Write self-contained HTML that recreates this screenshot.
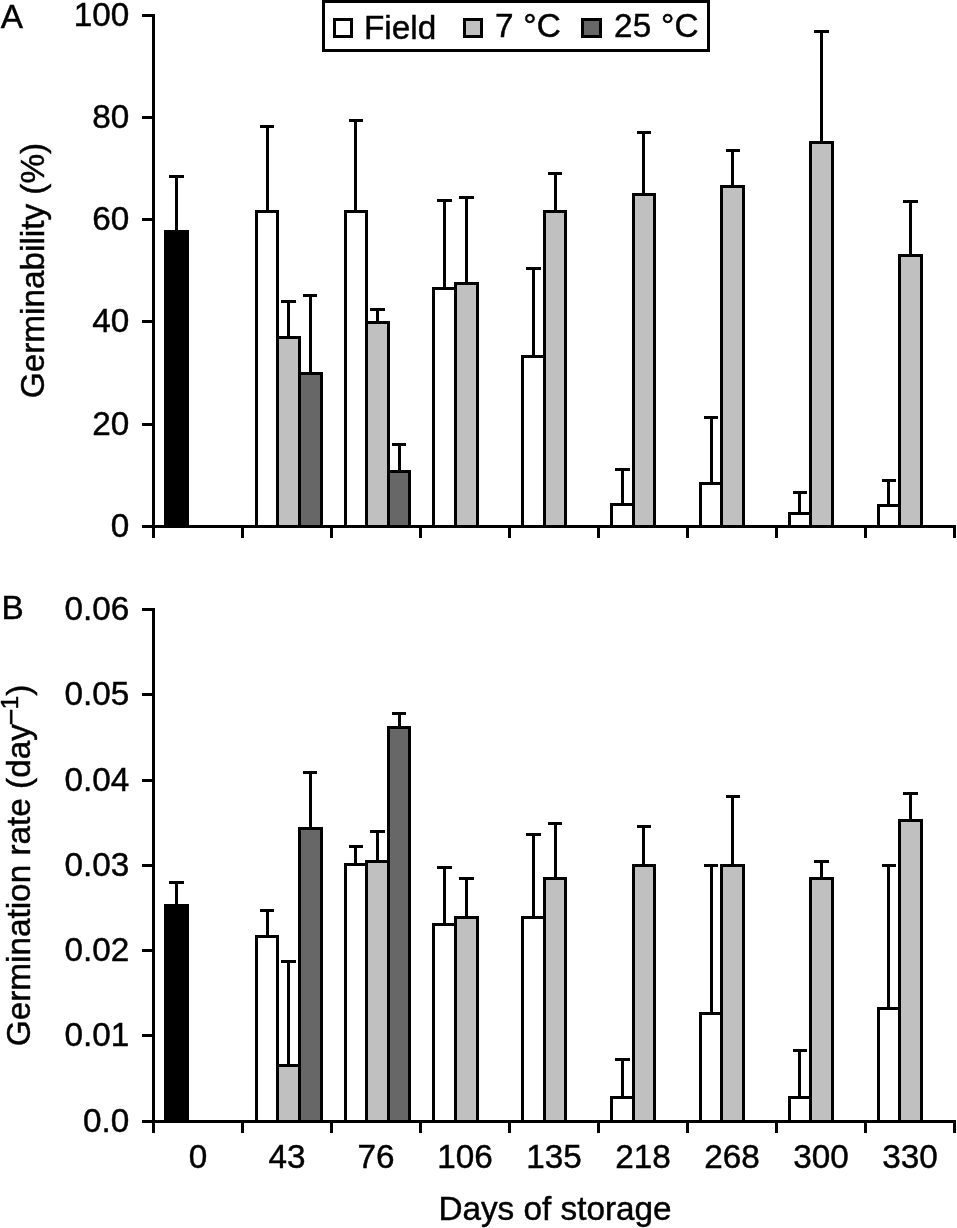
<!DOCTYPE html>
<html lang="en"><head><meta charset="utf-8"><title>Germinability and germination rate vs days of storage</title>
<style>
html,body{margin:0;padding:0;background:#fff;overflow:hidden;}
svg{display:block;}
text{font-family:"Liberation Sans",Arial,Helvetica,sans-serif;font-size:33.3px;fill:#000;stroke:#000;stroke-width:0.45px;}
</style></head>
<body>
<svg width="957" height="1228" viewBox="0 0 957 1228" shape-rendering="crispEdges">
<rect width="957" height="1228" fill="#fff"/>
<rect x="164.1" y="230.2" width="24.8" height="296.3" fill="#000"/>
<rect x="256.5" y="211.2" width="21.0" height="315.3" fill="#fff" stroke="#000" stroke-width="3"/>
<rect x="277.5" y="337.6" width="22.0" height="188.9" fill="#c0c0c0" stroke="#000" stroke-width="3"/>
<rect x="299.5" y="373.2" width="22.0" height="153.3" fill="#676767" stroke="#000" stroke-width="3"/>
<rect x="345.5" y="211.2" width="21.0" height="315.3" fill="#fff" stroke="#000" stroke-width="3"/>
<rect x="366.5" y="322.4" width="22.0" height="204.1" fill="#c0c0c0" stroke="#000" stroke-width="3"/>
<rect x="388.5" y="471.5" width="21.0" height="55.0" fill="#676767" stroke="#000" stroke-width="3"/>
<rect x="433.5" y="288.2" width="22.0" height="238.3" fill="#fff" stroke="#000" stroke-width="3"/>
<rect x="455.5" y="283.1" width="22.0" height="243.4" fill="#c0c0c0" stroke="#000" stroke-width="3"/>
<rect x="522.5" y="356.4" width="22.0" height="170.1" fill="#fff" stroke="#000" stroke-width="3"/>
<rect x="544.5" y="211.4" width="21.0" height="315.1" fill="#c0c0c0" stroke="#000" stroke-width="3"/>
<rect x="611.5" y="504.4" width="22.0" height="22.1" fill="#fff" stroke="#000" stroke-width="3"/>
<rect x="633.5" y="194.0" width="21.0" height="332.5" fill="#c0c0c0" stroke="#000" stroke-width="3"/>
<rect x="700.5" y="483.3" width="21.0" height="43.2" fill="#fff" stroke="#000" stroke-width="3"/>
<rect x="721.5" y="186.3" width="22.0" height="340.2" fill="#c0c0c0" stroke="#000" stroke-width="3"/>
<rect x="789.5" y="513.1" width="21.0" height="13.4" fill="#fff" stroke="#000" stroke-width="3"/>
<rect x="810.5" y="142.4" width="22.0" height="384.1" fill="#c0c0c0" stroke="#000" stroke-width="3"/>
<rect x="878.5" y="505.4" width="21.0" height="21.1" fill="#fff" stroke="#000" stroke-width="3"/>
<rect x="899.5" y="255.3" width="22.0" height="271.2" fill="#c0c0c0" stroke="#000" stroke-width="3"/>
<path d="M176.5 230.2V176.4M169.0 176.4H184.0" stroke="#000" stroke-width="3" fill="none"/>
<path d="M267.5 211.2V126.4M260.0 126.4H274.0" stroke="#000" stroke-width="3" fill="none"/>
<path d="M288.5 337.6V301.5M281.0 301.5H296.0" stroke="#000" stroke-width="3" fill="none"/>
<path d="M310.5 373.2V295.5M303.0 295.5H317.0" stroke="#000" stroke-width="3" fill="none"/>
<path d="M355.5 211.2V120.6M349.0 120.6H363.0" stroke="#000" stroke-width="3" fill="none"/>
<path d="M377.5 322.4V309.3M370.0 309.3H385.0" stroke="#000" stroke-width="3" fill="none"/>
<path d="M399.5 471.5V444.4M392.0 444.4H406.0" stroke="#000" stroke-width="3" fill="none"/>
<path d="M444.5 288.2V200.6M437.0 200.6H452.0" stroke="#000" stroke-width="3" fill="none"/>
<path d="M466.5 283.1V197.4M459.0 197.4H474.0" stroke="#000" stroke-width="3" fill="none"/>
<path d="M533.5 356.4V268.3M526.0 268.3H541.0" stroke="#000" stroke-width="3" fill="none"/>
<path d="M555.5 211.4V173.5M548.0 173.5H562.0" stroke="#000" stroke-width="3" fill="none"/>
<path d="M622.5 504.4V469.5M615.0 469.5H630.0" stroke="#000" stroke-width="3" fill="none"/>
<path d="M643.5 194.0V132.6M637.0 132.6H651.0" stroke="#000" stroke-width="3" fill="none"/>
<path d="M711.5 483.3V417.3M704.0 417.3H718.0" stroke="#000" stroke-width="3" fill="none"/>
<path d="M732.5 186.3V150.4M726.0 150.4H740.0" stroke="#000" stroke-width="3" fill="none"/>
<path d="M799.5 513.1V492.3M793.0 492.3H807.0" stroke="#000" stroke-width="3" fill="none"/>
<path d="M821.5 142.4V31.3M814.0 31.3H829.0" stroke="#000" stroke-width="3" fill="none"/>
<path d="M888.5 505.4V480.3M882.0 480.3H896.0" stroke="#000" stroke-width="3" fill="none"/>
<path d="M910.5 255.3V201.4M903.0 201.4H918.0" stroke="#000" stroke-width="3" fill="none"/>
<path d="M153.5 14.0V538.0M142 526.5H956M242.5 526.5V538.0M331.5 526.5V538.0M420.5 526.5V538.0M509.5 526.5V538.0M598.5 526.5V538.0M687.5 526.5V538.0M776.5 526.5V538.0M865.5 526.5V538.0M954.5 526.5V538.0M142 15.5H153.5M142 117.5H153.5M142 219.5H153.5M142 321.5H153.5M142 424.5H153.5M142 526.5H153.5" stroke="#000" stroke-width="3" fill="none"/>
<text x="129.3" y="25.9" text-anchor="end">100</text>
<text x="129.3" y="127.9" text-anchor="end">80</text>
<text x="129.3" y="229.9" text-anchor="end">60</text>
<text x="129.3" y="331.9" text-anchor="end">40</text>
<text x="129.3" y="434.9" text-anchor="end">20</text>
<text x="129.3" y="536.9" text-anchor="end">0</text>
<rect x="164.1" y="904.2" width="24.8" height="217.3" fill="#000"/>
<rect x="256.5" y="936.4" width="21.0" height="185.1" fill="#fff" stroke="#000" stroke-width="3"/>
<rect x="277.5" y="1065.0" width="22.0" height="56.5" fill="#c0c0c0" stroke="#000" stroke-width="3"/>
<rect x="299.5" y="828.7" width="22.0" height="292.8" fill="#676767" stroke="#000" stroke-width="3"/>
<rect x="345.5" y="864.7" width="21.0" height="256.8" fill="#fff" stroke="#000" stroke-width="3"/>
<rect x="366.5" y="861.3" width="22.0" height="260.2" fill="#c0c0c0" stroke="#000" stroke-width="3"/>
<rect x="388.5" y="727.1" width="21.0" height="394.4" fill="#676767" stroke="#000" stroke-width="3"/>
<rect x="433.5" y="924.0" width="22.0" height="197.5" fill="#fff" stroke="#000" stroke-width="3"/>
<rect x="455.5" y="917.0" width="22.0" height="204.5" fill="#c0c0c0" stroke="#000" stroke-width="3"/>
<rect x="522.5" y="917.5" width="22.0" height="204.0" fill="#fff" stroke="#000" stroke-width="3"/>
<rect x="544.5" y="878.2" width="21.0" height="243.3" fill="#c0c0c0" stroke="#000" stroke-width="3"/>
<rect x="611.5" y="1097.1" width="22.0" height="24.4" fill="#fff" stroke="#000" stroke-width="3"/>
<rect x="633.5" y="865.1" width="21.0" height="256.4" fill="#c0c0c0" stroke="#000" stroke-width="3"/>
<rect x="700.5" y="1013.1" width="21.0" height="108.4" fill="#fff" stroke="#000" stroke-width="3"/>
<rect x="721.5" y="865.1" width="22.0" height="256.4" fill="#c0c0c0" stroke="#000" stroke-width="3"/>
<rect x="789.5" y="1097.1" width="21.0" height="24.4" fill="#fff" stroke="#000" stroke-width="3"/>
<rect x="810.5" y="878.4" width="22.0" height="243.1" fill="#c0c0c0" stroke="#000" stroke-width="3"/>
<rect x="878.5" y="1008.3" width="21.0" height="113.2" fill="#fff" stroke="#000" stroke-width="3"/>
<rect x="899.5" y="820.2" width="22.0" height="301.3" fill="#c0c0c0" stroke="#000" stroke-width="3"/>
<path d="M176.5 904.2V882.4M169.0 882.4H184.0" stroke="#000" stroke-width="3" fill="none"/>
<path d="M267.5 936.4V910.3M260.0 910.3H274.0" stroke="#000" stroke-width="3" fill="none"/>
<path d="M288.5 1065.0V961.3M281.0 961.3H296.0" stroke="#000" stroke-width="3" fill="none"/>
<path d="M310.5 828.7V772.5M303.0 772.5H317.0" stroke="#000" stroke-width="3" fill="none"/>
<path d="M355.5 864.7V846.5M349.0 846.5H363.0" stroke="#000" stroke-width="3" fill="none"/>
<path d="M377.5 861.3V831.4M370.0 831.4H385.0" stroke="#000" stroke-width="3" fill="none"/>
<path d="M399.5 727.1V713.3M392.0 713.3H406.0" stroke="#000" stroke-width="3" fill="none"/>
<path d="M444.5 924.0V867.3M437.0 867.3H452.0" stroke="#000" stroke-width="3" fill="none"/>
<path d="M466.5 917.0V878.4M459.0 878.4H474.0" stroke="#000" stroke-width="3" fill="none"/>
<path d="M533.5 917.5V834.5M526.0 834.5H541.0" stroke="#000" stroke-width="3" fill="none"/>
<path d="M555.5 878.2V823.5M548.0 823.5H562.0" stroke="#000" stroke-width="3" fill="none"/>
<path d="M622.5 1097.1V1059.7M615.0 1059.7H630.0" stroke="#000" stroke-width="3" fill="none"/>
<path d="M643.5 865.1V826.5M637.0 826.5H651.0" stroke="#000" stroke-width="3" fill="none"/>
<path d="M711.5 1013.1V865.1M704.0 865.1H718.0" stroke="#000" stroke-width="3" fill="none"/>
<path d="M732.5 865.1V796.4M726.0 796.4H740.0" stroke="#000" stroke-width="3" fill="none"/>
<path d="M799.5 1097.1V1050.5M793.0 1050.5H807.0" stroke="#000" stroke-width="3" fill="none"/>
<path d="M821.5 878.4V861.4M814.0 861.4H829.0" stroke="#000" stroke-width="3" fill="none"/>
<path d="M888.5 1008.3V865.1M882.0 865.1H896.0" stroke="#000" stroke-width="3" fill="none"/>
<path d="M910.5 820.2V793.4M903.0 793.4H918.0" stroke="#000" stroke-width="3" fill="none"/>
<path d="M153.5 608.0V1133.0M142 1121.5H956M242.5 1121.5V1133.0M331.5 1121.5V1133.0M420.5 1121.5V1133.0M509.5 1121.5V1133.0M598.5 1121.5V1133.0M687.5 1121.5V1133.0M776.5 1121.5V1133.0M865.5 1121.5V1133.0M954.5 1121.5V1133.0M142 609.5H153.5M142 694.5H153.5M142 780.5H153.5M142 865.5H153.5M142 950.5H153.5M142 1035.5H153.5M142 1121.5H153.5" stroke="#000" stroke-width="3" fill="none"/>
<text x="129.3" y="619.9" text-anchor="end">0.06</text>
<text x="129.3" y="704.9" text-anchor="end">0.05</text>
<text x="129.3" y="790.9" text-anchor="end">0.04</text>
<text x="129.3" y="875.9" text-anchor="end">0.03</text>
<text x="129.3" y="960.9" text-anchor="end">0.02</text>
<text x="129.3" y="1045.9" text-anchor="end">0.01</text>
<text x="129.3" y="1131.9" text-anchor="end">0.0</text>
<text x="198.0" y="1168.3" text-anchor="middle">0</text>
<text x="287.0" y="1168.3" text-anchor="middle">43</text>
<text x="376.0" y="1168.3" text-anchor="middle">76</text>
<text x="465.0" y="1168.3" text-anchor="middle">106</text>
<text x="554.0" y="1168.3" text-anchor="middle">135</text>
<text x="643.0" y="1168.3" text-anchor="middle">218</text>
<text x="732.0" y="1168.3" text-anchor="middle">268</text>
<text x="821.0" y="1168.3" text-anchor="middle">300</text>
<text x="910.0" y="1168.3" text-anchor="middle">330</text>
<text x="438.4" y="1220.4">Days of storage</text>
<text x="0.8" y="27.5">A</text>
<text x="1.5" y="619.4">B</text>
<text transform="translate(43.8 398.2) rotate(-90)">Germinability (%)</text>
<text transform="translate(29.9 1046.2) rotate(-90)">Germination rate (day<tspan dy="-9.4" dx="-1" font-size="29">−</tspan><tspan dy="-2.3" dx="-0.9" font-size="24">1</tspan><tspan dy="11.7" dx="0.1">)</tspan></text>
<rect x="323.6" y="1.6" width="385" height="48.7" fill="#fff" stroke="#000" stroke-width="3"/>
<rect x="334.4" y="19.5" width="17" height="16.8" fill="#fff" stroke="#000" stroke-width="3"/>
<rect x="464.3" y="19.5" width="17" height="16.8" fill="#c0c0c0" stroke="#000" stroke-width="3"/>
<rect x="582.6" y="19.5" width="17.6" height="16.8" fill="#676767" stroke="#000" stroke-width="3"/>
<text x="364" y="38.8">Field</text>
<text x="495" y="36.9" letter-spacing="0.25">7 °C</text>
<text x="614" y="36.9" letter-spacing="0.25">25 °C</text>
</svg>
</body></html>
